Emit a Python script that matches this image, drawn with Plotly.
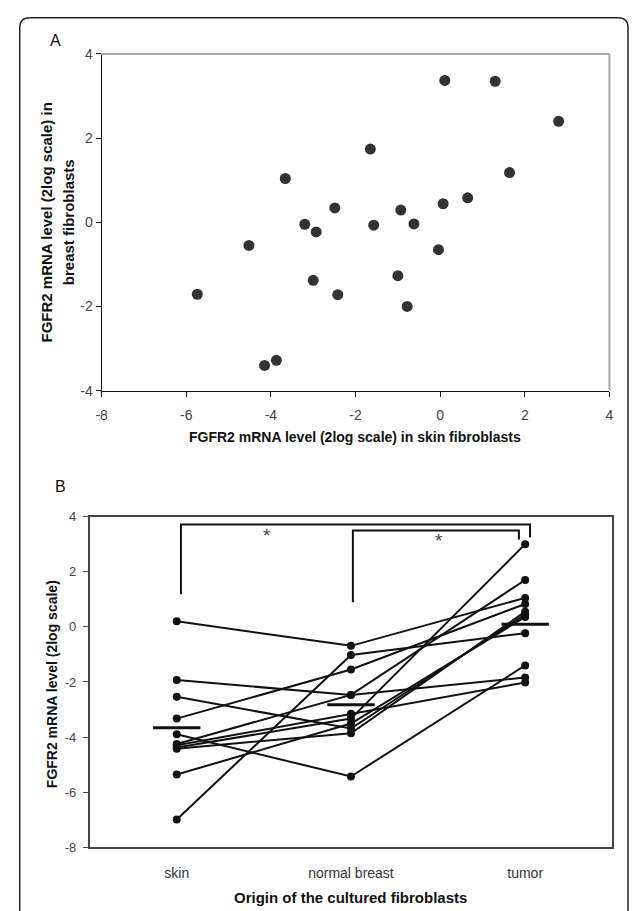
import plotly.graph_objects as go

W, H = 633, 911
FONT = "Liberation Sans, Arial, Helvetica, sans-serif"

# ---- Panel A: FGFR2 expression (log2) in paired skin / breast fibroblasts ----
skin_log2 = [0.11, 1.30, 2.80, -1.65, -3.66, 1.64, 0.65, 0.07, -2.49, -0.93, -3.20,
             -2.93, -1.57, -0.62, -4.52, -0.04, -1.00, -3.00, -5.74, -2.42, -0.78,
             -4.15, -3.87]
breast_log2 = [3.37, 3.35, 2.40, 1.74, 1.04, 1.18, 0.58, 0.44, 0.34, 0.29, -0.05,
               -0.23, -0.07, -0.04, -0.55, -0.65, -1.27, -1.38, -1.71, -1.72, -2.00,
               -3.40, -3.28]
a_x_ticks = [-8, -6, -4, -2, 0, 2, 4]
a_y_ticks = [-4, -2, 0, 2, 4]

# ---- Panel B: FGFR2 expression per patient by fibroblast origin ----
origins = ["skin", "normal breast", "tumor"]
skin_vals = [0.20, -1.93, -2.54, -3.33, -3.90, -5.36, -6.99, -4.25, -4.30, -4.38, -4.42]
normal_vals = [-0.69, -2.47, -3.69, -1.55, -5.43, -3.51, -1.02, -2.47, -3.15, -3.33, -3.86]
tumor_vals = [1.05, -1.84, 0.45, 0.83, -1.40, 0.36, -0.23, 1.70, -2.02, 3.00, 0.55]
group_means = [-3.66, -2.83, 0.09]
b_y_ticks = [-8, -6, -4, -2, 0, 2, 4]

# significance brackets: (x_left, x_right, y_top, y_left_foot, y_right_foot)
brackets = [(0.024, 2.028, 3.715, 1.18, 3.24),
            (1.011, 1.964, 3.50, 0.89, 3.17)]
star_pos = [(0.52, 3.33), (1.507, 3.12)]


def px(x):
    return x / W


def py(y):
    return 1 - y / H


fig = go.Figure()

fig.add_trace(go.Scatter(
    x=skin_log2, y=breast_log2, mode="markers",
    marker=dict(size=11, color="#333333"),
    xaxis="x", yaxis="y", showlegend=False, hoverinfo="skip"))

for s, n, t in zip(skin_vals, normal_vals, tumor_vals):
    fig.add_trace(go.Scatter(
        x=[0, 1, 2], y=[s, n, t], mode="lines+markers",
        line=dict(color="#111111", width=2),
        marker=dict(size=8, color="#111111"),
        xaxis="x2", yaxis="y2", showlegend=False, hoverinfo="skip"))

shapes = []
# group mean bars
for i, m in enumerate(group_means):
    shapes.append(dict(type="line", xref="x2", yref="y2", x0=i - 0.136, x1=i + 0.136,
                       y0=m, y1=m, line=dict(color="#111111", width=3)))
# brackets
for xl, xr, yt, yl, yr in brackets:
    shapes.append(dict(type="path", xref="x2", yref="y2",
                       path=f"M {xl},{yl} L {xl},{yt} L {xr},{yt} L {xr},{yr}",
                       line=dict(color="#111111", width=2)))
# grey top/right edges of panel A frame
ax0, ax1 = 97.2, 613.1
ay0, ay1 = 46.7, 389.5
shapes.append(dict(type="line", xref="paper", yref="paper", x0=px(ax0), x1=px(ax1),
                   y0=py(ay0), y1=py(ay0), line=dict(color="#a8a8a8", width=2)))
shapes.append(dict(type="line", xref="paper", yref="paper", x0=px(ax1), x1=px(ax1),
                   y0=py(ay0), y1=py(ay1), line=dict(color="#a8a8a8", width=2)))
# rounded outer border
L, T, R, B, r = 14, 10, 632, 930, 10
shapes.append(dict(
    type="path", xref="paper", yref="paper",
    path=(f"M {px(L)},{py(B)} L {px(L)},{py(T + r)} "
          f"Q {px(L)},{py(T)} {px(L + r)},{py(T)} L {px(R - r)},{py(T)} "
          f"Q {px(R)},{py(T)} {px(R)},{py(T + r)} L {px(R)},{py(B)}"),
    line=dict(color="#222222", width=1.5)))

annotations = [
    dict(text="A", x=px(50), y=py(33), font=dict(size=16, color="#111")),
    dict(text="B", x=px(55), y=py(487), font=dict(size=16, color="#111")),
    dict(text="<b>FGFR2 mRNA level (2log scale) in</b>", x=px(41), y=py(218),
         textangle=-90, font=dict(size=15, color="#111")),
    dict(text="<b>breast fibroblasts</b>", x=px(63), y=py(218),
         textangle=-90, font=dict(size=15, color="#111")),
    dict(text="<b>FGFR2 mRNA level (2log scale) in skin fibroblasts</b>",
         x=px(355), y=py(437), font=dict(size=14, color="#111")),
    dict(text="<b>FGFR2 mRNA level (2log scale)</b>", x=px(47), y=py(688),
         textangle=-90, font=dict(size=14, color="#111")),
    dict(text="<b>Origin of the cultured fibroblasts</b>", x=px(350.5), y=py(905),
         font=dict(size=15, color="#111")),
]
for a in annotations:
    a.update(xref="paper", yref="paper", showarrow=False,
             xanchor="center", yanchor="middle")
for sx, sy in star_pos:
    annotations.append(dict(text="*", x=sx, y=sy, xref="x2", yref="y2",
                            showarrow=False, xanchor="center", yanchor="middle",
                            font=dict(size=19, color="#444")))

axis_common = dict(showgrid=False, zeroline=False, fixedrange=True)

fig.update_layout(
    width=W, height=H, margin=dict(l=0, r=0, t=0, b=0),
    paper_bgcolor="white", plot_bgcolor="white",
    font=dict(family=FONT, color="#333"),
    xaxis=dict(domain=[px(ax0), px(ax1)], range=[-8, 4], anchor="y",
               tickvals=a_x_ticks, ticktext=[str(v) for v in a_x_ticks],
               ticks="outside", ticklen=5, tickcolor="#111", tickwidth=1,
               showline=True, linecolor="#111", linewidth=1.2,
               tickfont=dict(size=14, color="#444"), ticklabelstandoff=6,
               **axis_common),
    yaxis=dict(domain=[py(ay1), py(ay0)], range=[-4, 4], anchor="x",
               tickvals=a_y_ticks, ticktext=[str(v) for v in a_y_ticks],
               ticks="outside", ticklen=5, tickcolor="#111", tickwidth=1,
               showline=True, linecolor="#111", linewidth=1.2,
               tickfont=dict(size=14, color="#444"),
               **axis_common),
    xaxis2=dict(domain=[px(85), px(616)], range=[-0.5, 2.5], anchor="y2",
                tickvals=[0, 1, 2], ticktext=origins, ticks="",
                showline=True, mirror=True, linecolor="#444", linewidth=1.5,
                tickfont=dict(size=14, color="#333"), ticklabelstandoff=12,
                **axis_common),
    yaxis2=dict(domain=[py(854.3), py(517.7)], range=[-8, 4], anchor="x2",
                tickvals=b_y_ticks, ticktext=[str(v) for v in b_y_ticks],
                ticks="outside", ticklen=5, tickcolor="#444", tickwidth=1,
                showline=True, mirror=True, linecolor="#444", linewidth=1.5,
                tickfont=dict(size=13, color="#444"), ticklabelstandoff=4,
                **axis_common),
    shapes=shapes,
    annotations=annotations,
)

fig.write_html("out.html")
